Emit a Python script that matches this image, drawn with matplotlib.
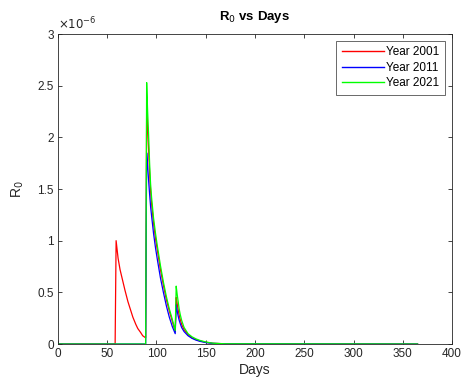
import matplotlib
matplotlib.use("Agg")
import matplotlib.pyplot as plt

plt.rcParams['font.family'] = ['Liberation Sans', 'DejaVu Sans']

scale_label = r'$\times10^{-6}$'

# Day grids and values (in units of 1e-6)
days_2001 = [0, 58, 59, 61, 63, 66, 68, 71, 73, 76, 79, 81, 84, 86, 89,
             90, 91, 92, 93, 94, 95, 97, 99, 101, 104, 107, 110, 113, 116, 119,
             120, 121, 122, 123, 124, 125.5, 128, 132, 136, 140, 144, 150, 157, 170, 365]
r0_2001 = [0, 0, 1.0, 0.83, 0.72, 0.6, 0.52, 0.41, 0.35, 0.26, 0.19, 0.15, 0.11, 0.08, 0.06,
           2.25, 2.08, 1.88, 1.66, 1.48, 1.36, 1.17, 1.02, 0.9, 0.72, 0.57, 0.43, 0.32, 0.22, 0.12,
           0.45, 0.39, 0.33, 0.28, 0.24, 0.19, 0.14, 0.09, 0.06, 0.043, 0.03, 0.017, 0.007, 0.002, 0]

days_2011 = [0, 89, 90, 91, 92, 93, 94, 95, 97, 99, 101, 104, 107, 110, 113, 116, 119,
             120, 121, 122, 123, 124, 125.5, 128, 132, 136, 140, 144, 150, 157, 170, 365]
r0_2011 = [0, 0, 1.85, 1.72, 1.58, 1.45, 1.33, 1.24, 1.07, 0.93, 0.81, 0.64, 0.5, 0.37, 0.26, 0.17, 0.1,
           0.38, 0.32, 0.27, 0.23, 0.2, 0.16, 0.12, 0.08, 0.055, 0.038, 0.026, 0.014, 0.006, 0.002, 0]

days_2021 = [0, 89, 90, 91, 92, 93, 94, 95, 97, 99, 101, 104, 107, 110, 113, 116, 119,
             120, 121, 122, 123, 124, 125.5, 128, 132, 136, 140, 144, 150, 157, 170, 365]
r0_2021 = [0, 0, 2.53, 2.25, 2.02, 1.75, 1.55, 1.42, 1.22, 1.07, 0.94, 0.76, 0.6, 0.46, 0.34, 0.24, 0.13,
           0.56, 0.48, 0.41, 0.34, 0.29, 0.23, 0.16, 0.1, 0.07, 0.05, 0.035, 0.02, 0.008, 0.002, 0]

labels = ['Year 2001', 'Year 2011', 'Year 2021']
colors = ['#ff0000', '#0000ff', '#00ff00']

x_ticks = [0, 50, 100, 150, 200, 250, 300, 350, 400]
y_ticks = [0, 0.5, 1, 1.5, 2, 2.5, 3]
y_tick_labels = ['0', '0.5', '1', '1.5', '2', '2.5', '3']

fig = plt.figure(figsize=(4.61, 3.83), dpi=100)
ax = fig.add_axes([0.1258, 0.1018, 0.8547, 0.8094])

for d, v, lab, c in zip([days_2001, days_2011, days_2021],
                        [r0_2001, r0_2011, r0_2021], labels, colors):
    ax.plot(d, v, color=c, lw=0.9, label=lab)

ax.set_xlim(0, 400)
ax.set_ylim(0, 3)
ax.set_xticks(x_ticks)
ax.set_yticks(y_ticks)
ax.set_yticklabels(y_tick_labels)
ax.tick_params(direction='in', top=True, right=True, labelsize=8.5,
               colors='#262626', length=3, width=0.6, pad=3)
for s in ax.spines.values():
    s.set_color('#262626')
    s.set_linewidth(0.6)

ax.set_xlabel('Days', fontsize=10, color='#262626', labelpad=2)
ax.set_ylabel(r'R$_0$', fontsize=10, color='#262626', labelpad=8)
ax.set_title(r'R$_0$ vs Days', fontsize=9.5, fontweight='bold', color='black', pad=10)
ax.text(0.0, 1.005, scale_label, transform=ax.transAxes, fontsize=8.5,
        color='#262626', ha='left', va='bottom')

leg = ax.legend(loc='upper right', fontsize=8.5, frameon=True, fancybox=False,
                edgecolor='#262626', handlelength=3.6, handletextpad=0.2,
                borderpad=0.45, labelspacing=0.3, borderaxespad=0.6)
leg.get_frame().set_linewidth(0.6)
for h in leg.get_lines():
    h.set_linewidth(1.0)

fig.savefig('out.png', dpi=100)
